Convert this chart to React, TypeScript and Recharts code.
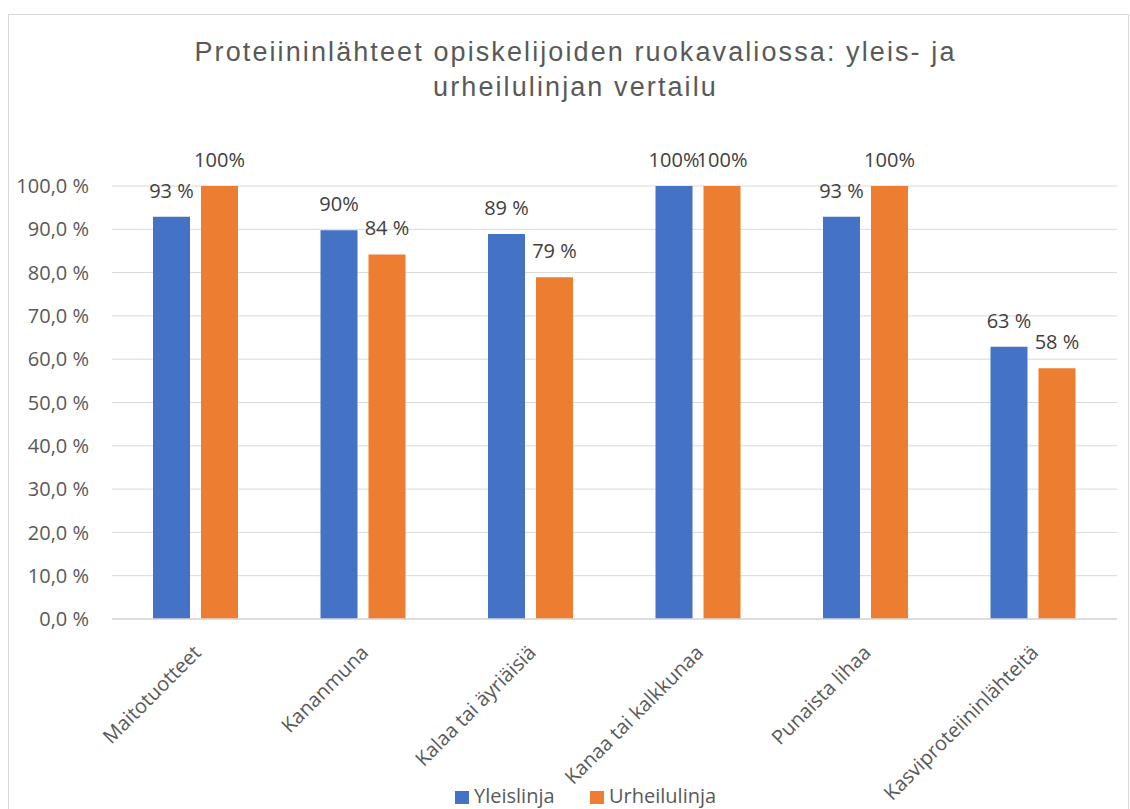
import React from 'react';
import { BarChart, Bar, XAxis, YAxis, CartesianGrid, LabelList } from 'recharts';

const categories = [
  'Maitotuotteet',
  'Kananmuna',
  'Kalaa tai äyriäisiä',
  'Kanaa tai kalkkunaa',
  'Punaista lihaa',
  'Kasviproteiininlähteitä',
];
const yleislinja = [92.9, 89.8, 88.9, 100, 92.9, 62.9];
const urheilulinja = [100, 84.2, 78.9, 100, 100, 57.9];
const yleisLabels = ['93 %', '90%', '89 %', '100%', '93 %', '63 %'];
const urheiluLabels = ['100%', '84 %', '79 %', '100%', '100%', '58 %'];
const yTicks = [0, 10, 20, 30, 40, 50, 60, 70, 80, 90, 100];

const data = categories.map((name, i) => ({
  name,
  yleis: yleislinja[i],
  urheilu: urheilulinja[i],
  yleisLabel: yleisLabels[i],
  urheiluLabel: urheiluLabels[i],
}));

const FONT = '"Open Sans", sans-serif';
const BLUE = '#4472C4';
const ORANGE = '#ED7D31';

const formatY = (v: number) => `${v.toFixed(1).replace('.', ',')} %`;

const CategoryTick = (props: any) => {
  const { x, y, payload } = props;
  return (
    <g transform={`translate(${x + 1.5},${y + 30})`}>
      <text
        transform="rotate(-45)"
        textAnchor="end"
        dy="0.35em"
        fill="#595959"
        fontSize={20}
        fontFamily={FONT}
      >
        {payload.value}
      </text>
    </g>
  );
};

const legendText: React.CSSProperties = {
  position: 'absolute',
  top: 786,
  fontFamily: FONT,
  fontSize: 20,
  lineHeight: '20px',
  color: '#595959',
  whiteSpace: 'nowrap',
};

export default function App() {
  return (
    <div
      style={{
        position: 'fixed',
        left: 0,
        top: 0,
        width: 1130,
        height: 809,
        overflow: 'hidden',
        background: '#fff',
      }}
    >
      <div
        style={{
          position: 'absolute',
          left: 8,
          top: 14,
          width: 1121,
          height: 810,
          border: '1px solid #d9d9d9',
          boxSizing: 'border-box',
        }}
      />
      <div
        style={{
          position: 'absolute',
          left: 8,
          top: 35,
          width: 1135,
          textAlign: 'center',
          fontFamily: '"Liberation Sans", Arial, sans-serif',
          fontSize: 27,
          letterSpacing: 2.1,
          lineHeight: '35px',
          color: '#595959',
        }}
      >
        Proteiininlähteet opiskelijoiden ruokavaliossa: yleis- ja
        <br />
        urheilulinjan vertailu
      </div>
      <div style={{ position: 'absolute', left: 8, top: 8 }}>
        <BarChart
          width={1122}
          height={801}
          data={data}
          margin={{ top: 178, right: 13, bottom: 0, left: 0 }}
          barSize={37}
          barGap={11}
        >
          <CartesianGrid vertical={false} stroke="#d9d9d9" strokeWidth={1} />
          <XAxis
            dataKey="name"
            interval={0}
            height={190}
            tickSize={0}
            tickMargin={0}
            tickLine={false}
            axisLine={{ stroke: '#d9d9d9', strokeWidth: 1.5 }}
            tick={<CategoryTick />}
          />
          <YAxis
            width={104}
            domain={[0, 100]}
            ticks={yTicks}
            tickFormatter={formatY}
            tickSize={0}
            tickMargin={23}
            tickLine={false}
            axisLine={false}
            tick={{ fill: '#595959', fontSize: 20, fontFamily: FONT }}
          />
          <Bar dataKey="yleis" name="Yleislinja" fill={BLUE} isAnimationActive={false}>
            <LabelList
              dataKey="yleisLabel"
              position="top"
              offset={19}
              fill="#404040"
              fontSize={20}
              fontFamily={FONT}
            />
          </Bar>
          <Bar dataKey="urheilu" name="Urheilulinja" fill={ORANGE} isAnimationActive={false}>
            <LabelList
              dataKey="urheiluLabel"
              position="top"
              offset={19}
              fill="#404040"
              fontSize={20}
              fontFamily={FONT}
            />
          </Bar>
        </BarChart>
      </div>
      {/* legend */}
      <div style={{ position: 'absolute', left: 455, top: 791, width: 14, height: 13, background: BLUE }} />
      <div style={{ ...legendText, left: 474 }}>Yleislinja</div>
      <div style={{ position: 'absolute', left: 590, top: 791, width: 14, height: 13, background: ORANGE }} />
      <div style={{ ...legendText, left: 609 }}>Urheilulinja</div>
    </div>
  );
}
